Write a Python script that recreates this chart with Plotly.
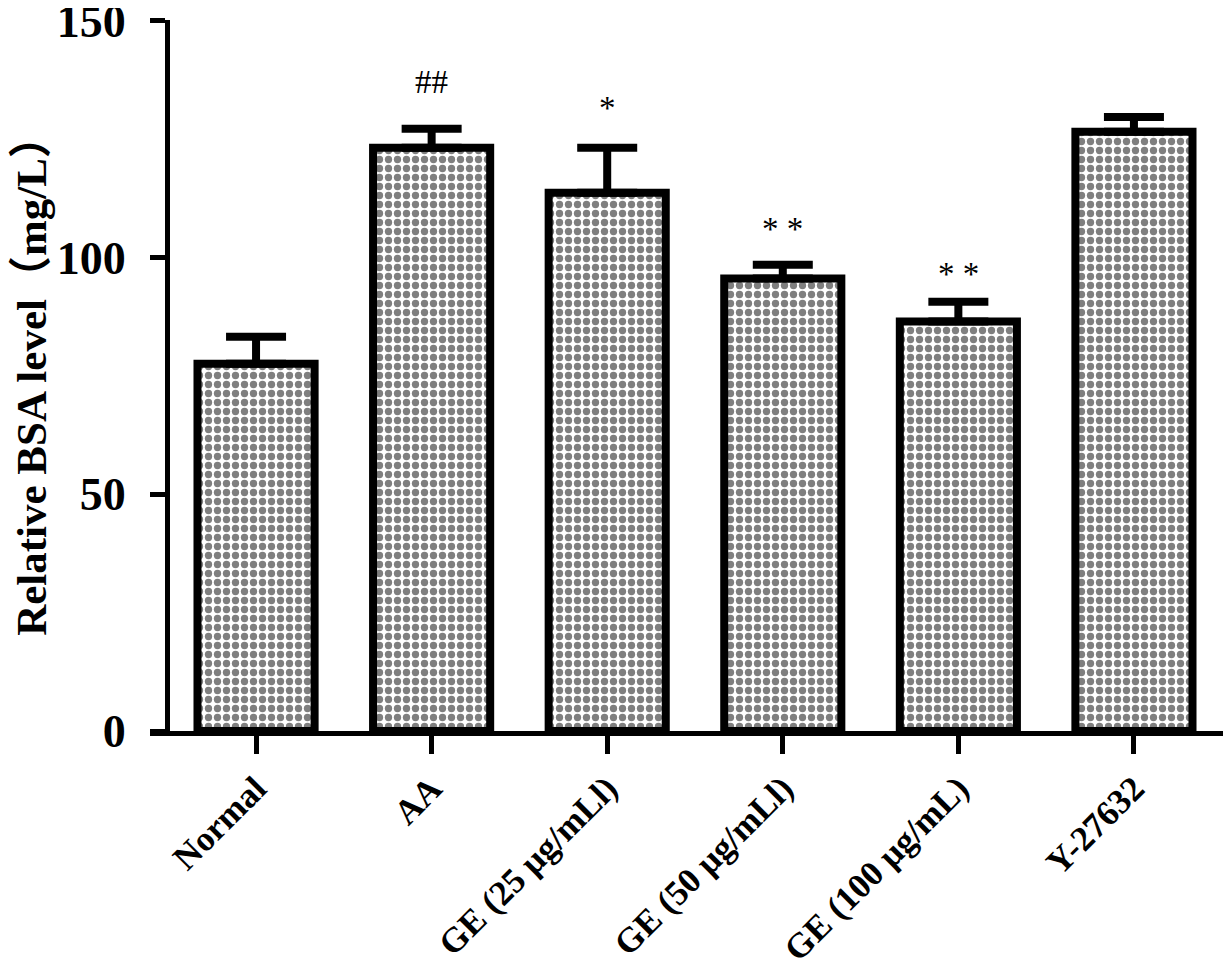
import plotly.graph_objects as go

groups = ["Normal", "AA", "GE (25 μg/mLl)", "GE (50 μg/mLl)", "GE (100 μg/mL)", "Y-27632"]
means = [77.6, 123.2, 113.7, 95.6, 86.5, 126.6]
upper = [83.3, 127.2, 123.2, 98.5, 90.7, 129.7]
marks = ["", "##", "*", "* *", "* *", ""]
mark_y = [None, 137.1, 131.6, 106.1, 96.6]

errs = [u - m for u, m in zip(upper, means)]
serif = "Liberation Serif, Noto Sans CJK SC"

fig = go.Figure()
fig.add_trace(go.Bar(
    x=list(range(len(groups))),
    y=means,
    width=0.667,
    marker=dict(
        color="white",
        line=dict(color="black", width=8),
        pattern=dict(shape=".", size=9, solidity=0.52, fgcolor="black", bgcolor="white"),
    ),
    error_y=dict(type="data", array=errs, arrayminus=[0] * len(errs), symmetric=False,
                 color="black", thickness=8, width=30),
    showlegend=False,
))

for i, (txt, yy) in enumerate(zip(marks, mark_y)):
    if txt:
        fig.add_annotation(x=i, y=yy, text=txt, showarrow=False,
                           font=dict(family="Liberation Serif", size=33, color="black"))

# page body has an 8px margin, so the figure is 8px smaller each way
fig.update_layout(
    width=1223, height=960,
    margin=dict(l=142, r=4, t=12, b=237),
    plot_bgcolor="white", paper_bgcolor="white",
)
fig.update_xaxes(
    range=[-0.604, 5.53], automargin=False,
    tickmode="array", tickvals=list(range(len(groups))), ticktext=groups,
    tickangle=-45,
    showline=True, linecolor="black", linewidth=5,
    ticks="outside", ticklen=18, tickwidth=5, tickcolor="black",
    showgrid=False, zeroline=False,
    tickfont=dict(family="Liberation Serif", size=35, color="black", weight="bold"),
)
fig.update_yaxes(
    range=[0, 150.2], tickvals=[0, 50, 100, 150], automargin=False,
    anchor="free", position=0.0158,
    showline=True, linecolor="black", linewidth=5,
    ticks="outside", ticklen=15, tickwidth=5, tickcolor="black",
    ticklabelstandoff=15, ticklabeloverflow="allow",
    showgrid=False, zeroline=False,
    tickfont=dict(family="Liberation Serif", size=46, color="black", weight="bold"),
    title=dict(text="Relative BSA level（mg/L）", standoff=2,
               font=dict(family=serif, size=43, color="black", weight="bold")),
)

fig.write_html("out.html")
